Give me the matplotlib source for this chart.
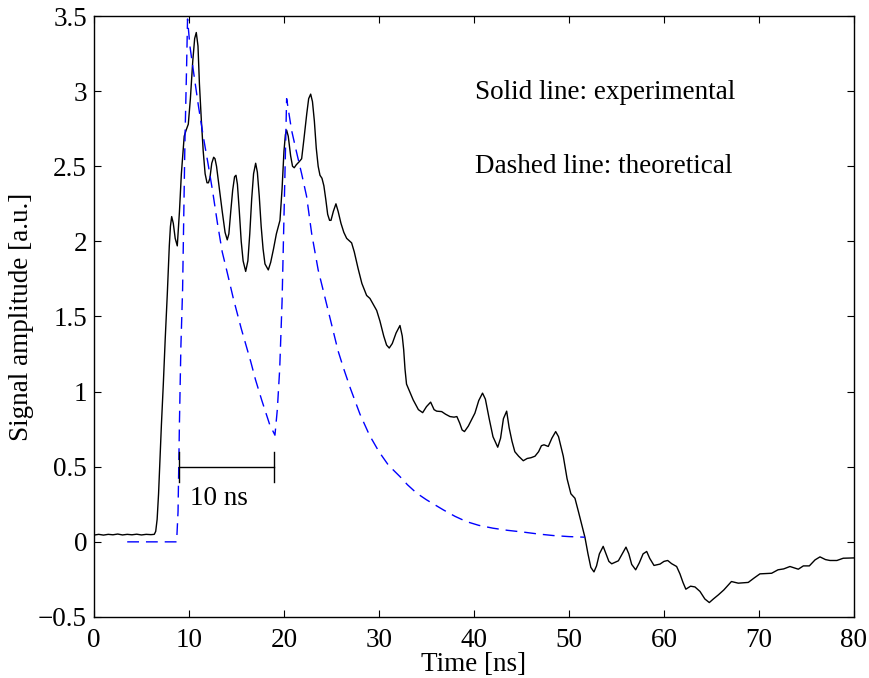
import matplotlib
matplotlib.use("Agg")
import matplotlib.pyplot as plt

plt.rcParams['font.family'] = ['Liberation Serif', 'DejaVu Serif']

# Measured detector signal (time in ns, amplitude in a.u.)
exp_time = [
    0.0, 0.5, 1.0, 1.5, 2.0, 2.5, 3.0, 3.5, 4.0, 4.5, 5.0, 5.5, 6.0, 6.35,
    6.5, 6.65, 6.8, 6.95, 7.1, 7.3, 7.5, 7.72, 7.93, 8.05, 8.18, 8.35, 8.55, 8.77,
    9.0, 9.2, 9.5, 9.7, 9.93, 10.15, 10.4, 10.6, 10.77, 10.95, 11.1, 11.3,
    11.5, 11.7, 11.9, 12.05, 12.2, 12.4, 12.6, 12.74, 12.9, 13.2, 13.5, 13.8,
    14.03, 14.2, 14.4, 14.6, 14.8, 14.95, 15.1, 15.3, 15.5, 15.7, 15.97, 16.2,
    16.4, 16.6, 16.8, 17.02, 17.2, 17.4, 17.6, 17.8, 18.0, 18.35, 18.6, 18.9,
    19.2, 19.58, 19.8, 20.0, 20.15, 20.28, 20.45, 20.7, 20.9, 21.08, 21.3,
    21.6, 21.86, 22.1, 22.4, 22.6, 22.81, 23.0, 23.2, 23.4, 23.6, 23.79, 24.0,
    24.2, 24.4, 24.6, 24.8, 24.95, 25.2, 25.47, 25.7, 26.0, 26.3, 26.6, 26.77,
    27.12, 27.4, 27.8, 28.2, 28.7, 29.05, 29.4, 29.76, 30.1, 30.5, 30.8, 31.08,
    31.4, 31.8, 32.21, 32.45, 32.6, 32.74, 32.9, 33.1, 33.6, 34.15, 34.6, 35.0,
    35.44, 35.8, 36.07, 36.6, 37.0, 37.47, 37.9, 38.2, 38.5, 38.75, 39.0, 39.4,
    39.8, 40.1, 40.5, 40.9, 41.2, 41.6, 42.0, 42.5, 42.8, 43.1, 43.44, 43.7,
    44.0, 44.3, 44.7, 45.19, 45.6, 46.0, 46.42, 46.8, 47.1, 47.37, 47.82, 48.2,
    48.6, 48.9, 49.4, 49.8, 50.2, 50.63, 51.0, 51.68, 52.0, 52.3, 52.63, 52.9,
    53.2, 53.6, 53.9, 54.2, 54.5, 55.2, 55.6, 56.0, 56.3, 56.6, 57.02, 57.4,
    57.8, 58.18, 58.5, 58.95, 59.58, 60.0, 60.39, 60.8, 61.33, 61.68, 62.0,
    62.3, 62.8, 63.26, 63.79, 64.3, 64.77, 65.2, 65.72, 66.3, 67.1, 67.82,
    68.87, 69.5, 70.1, 71.33, 72.0, 72.6, 73.26, 74.14, 74.67, 75.3, 75.9,
    76.42, 77.0, 77.47, 78.2, 78.87, 79.93,
]
exp_signal = [
    0.045, 0.050, 0.045, 0.050, 0.047, 0.052, 0.046, 0.050, 0.047, 0.051,
    0.046, 0.050, 0.048, 0.050,
    0.07, 0.15, 0.32, 0.55, 0.78, 1.05, 1.35, 1.65, 1.97, 2.10, 2.165, 2.12, 2.02, 1.97,
    2.20, 2.45, 2.70, 2.74, 2.78, 2.95, 3.20, 3.35, 3.39, 3.30, 3.05, 2.81,
    2.60, 2.45, 2.39, 2.39, 2.42, 2.52, 2.56, 2.55, 2.50, 2.35, 2.20, 2.06,
    2.01, 2.05, 2.20, 2.34, 2.43, 2.44, 2.38, 2.20, 2.00, 1.87, 1.80, 1.87,
    2.05, 2.28, 2.45, 2.52, 2.46, 2.30, 2.10, 1.95, 1.85, 1.81, 1.86, 1.95,
    2.05, 2.14, 2.35, 2.60, 2.71, 2.74, 2.70, 2.57, 2.50, 2.49, 2.51,
    2.53, 2.55, 2.68, 2.85, 2.95, 2.98, 2.93, 2.80, 2.62, 2.50, 2.44, 2.42,
    2.37, 2.28, 2.18, 2.14, 2.14, 2.20, 2.25, 2.20, 2.12, 2.06, 2.02, 2.01,
    1.99, 1.93, 1.82, 1.72, 1.64, 1.62, 1.58, 1.54, 1.47, 1.37, 1.31, 1.29,
    1.32, 1.39, 1.44, 1.37, 1.28, 1.15, 1.05, 1.02, 0.945, 0.88, 0.86, 0.90,
    0.93, 0.88, 0.87, 0.867, 0.85, 0.834, 0.83, 0.834, 0.79, 0.745, 0.734, 0.77,
    0.82, 0.857, 0.94, 0.99, 0.95, 0.82, 0.70, 0.63, 0.69, 0.82, 0.87, 0.76,
    0.67, 0.60, 0.57, 0.54, 0.555, 0.56, 0.57, 0.60, 0.64, 0.646, 0.635, 0.69,
    0.734, 0.70, 0.57, 0.42, 0.32, 0.29, 0.20, 0.03, -0.08, -0.17, -0.20, -0.16,
    -0.08, -0.03, -0.08, -0.13, -0.146, -0.126, -0.08, -0.035, -0.08, -0.15, -0.186, -0.14,
    -0.08, -0.064, -0.11, -0.157, -0.148, -0.13, -0.124, -0.145, -0.164, -0.213, -0.27,
    -0.315, -0.295, -0.30, -0.33, -0.38, -0.404, -0.38, -0.353, -0.32, -0.264, -0.275,
    -0.27, -0.24, -0.213, -0.209, -0.186, -0.18, -0.164, -0.182, -0.16, -0.16, -0.12,
    -0.10, -0.118, -0.124, -0.124, -0.109, -0.107,
]

# Model prediction
th_time = [
    3.5, 8.7, 8.85, 9.0, 9.15, 9.33, 9.58, 9.75, 9.85, 10.1, 10.5, 11.0, 11.5,
    12.0, 12.5, 13.0, 13.5, 14.0, 14.67, 15.5, 16.5, 17.0, 17.65, 18.5, 19.05,
    19.3, 19.55, 19.8, 20.05, 20.28, 20.8, 21.3, 21.86, 22.38, 22.92, 23.6,
    24.3, 25.0, 25.7, 26.3, 27.0, 28.0, 29.0, 30.0, 31.0, 32.2, 33.0, 33.97,
    35.0, 36.77, 38.0, 39.2, 40.5, 42.0, 43.5, 45.2, 46.8, 48.35, 50.0, 51.68,
]
th_signal = [
    0.0, 0.0, 0.2, 0.8, 1.3, 1.68, 2.68, 3.16, 3.48, 3.30, 3.12, 2.90, 2.70,
    2.52, 2.33, 2.12, 1.93, 1.80, 1.62, 1.42, 1.20, 1.08, 0.945, 0.78, 0.71,
    0.88, 1.15, 1.60, 2.30, 2.95, 2.74, 2.60, 2.45, 2.30, 2.05, 1.81,
    1.63, 1.45, 1.27, 1.15, 1.02, 0.85, 0.71, 0.60, 0.51, 0.435, 0.38, 0.324,
    0.28, 0.213, 0.17, 0.135, 0.11, 0.091, 0.077, 0.065, 0.052, 0.042, 0.035, 0.031,
]

x_ticks = [0, 10, 20, 30, 40, 50, 60, 70, 80]
y_ticks = [-0.5, 0, 0.5, 1, 1.5, 2, 2.5, 3, 3.5]
y_tick_labels = ['\u22120.5', '0', '0.5', '1', '1.5', '2', '2.5', '3', '3.5']

# Scale bar marking a 10 ns interval
bar_start, bar_end, bar_level = 9.0, 19.0, 0.5

fs = 19.5

fig = plt.figure(figsize=(8.7, 6.78), dpi=100)
ax = fig.add_axes([0.108, 0.090, 0.8736, 0.8864])

ax.plot(exp_time, exp_signal, color='black', lw=1.0, solid_joinstyle='round')
ax.plot(th_time, th_signal, color='#0000ff', lw=1.0, dashes=(8.5, 5))

ax.plot([bar_start, bar_end], [bar_level, bar_level], color='black', lw=1.0)
for xb in (bar_start, bar_end):
    ax.plot([xb, xb], [bar_level - 0.1, bar_level + 0.1], color='black', lw=1.0)
ax.text(10.1, 0.29, '10 ns', fontsize=fs, ha='left', va='center')

ax.text(40.1, 2.99, 'Solid line: experimental', fontsize=fs, ha='left', va='center')
ax.text(40.1, 2.50, 'Dashed line: theoretical', fontsize=fs, ha='left', va='center')

ax.set_xlim(0, 80)
ax.set_ylim(-0.5, 3.5)
ax.set_xticks(x_ticks)
ax.set_yticks(y_ticks)
ax.set_yticklabels(y_tick_labels)
ax.tick_params(direction='in', length=5, width=0.8, top=True, right=True,
               labelsize=fs)
ax.tick_params(axis='x', pad=8)
ax.tick_params(axis='y', pad=5)
for sp in ax.spines.values():
    sp.set_linewidth(1.0)

ax.set_xlabel('Time [ns]', fontsize=fs, labelpad=-1)
ax.set_ylabel('Signal amplitude [a.u.]', fontsize=fs, labelpad=3)

fig.savefig('out.png', dpi=100)
